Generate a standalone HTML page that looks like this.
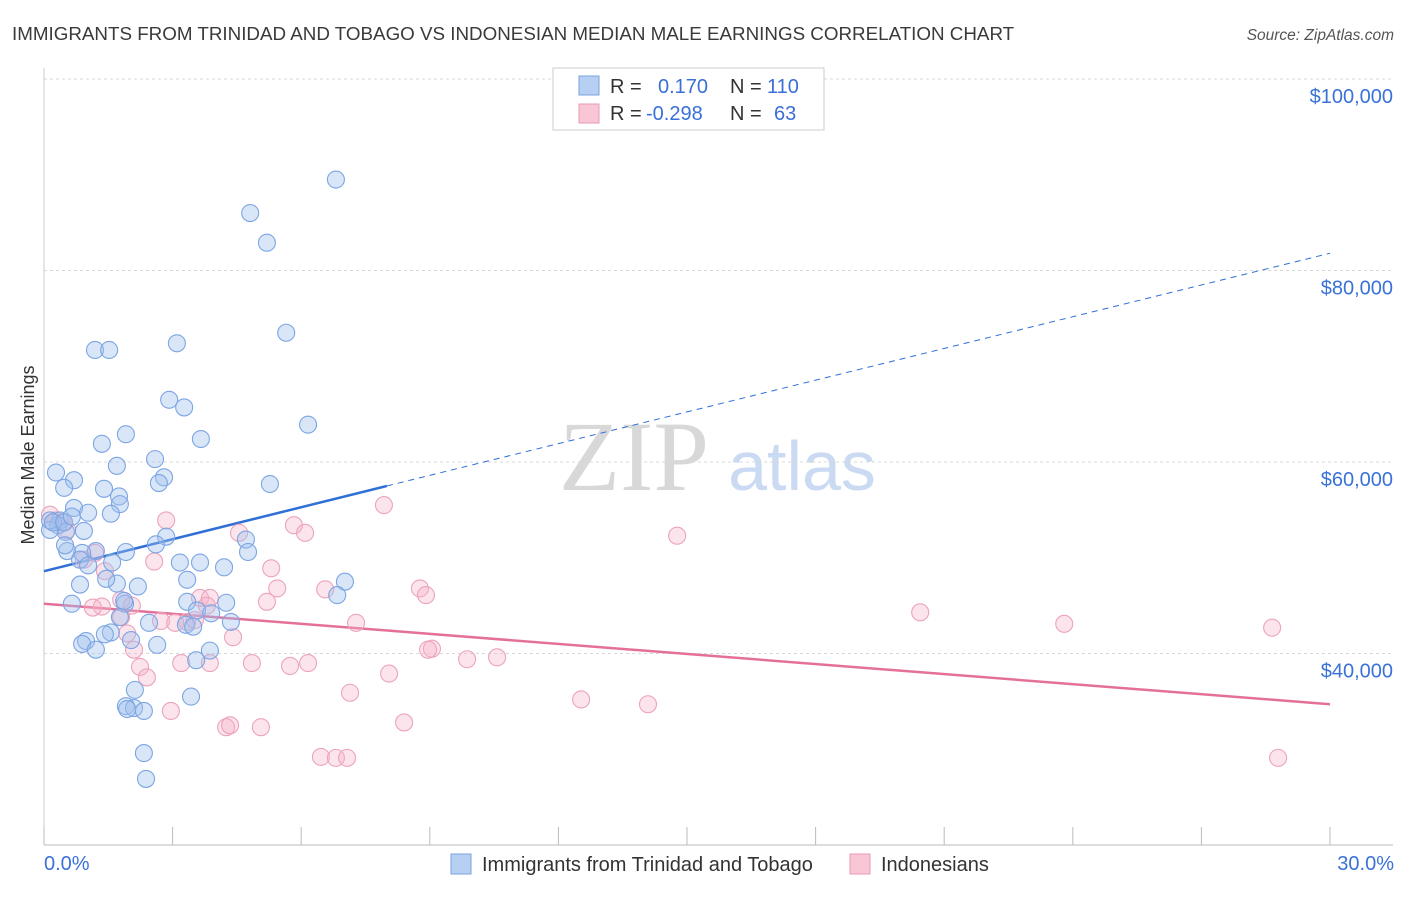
<!DOCTYPE html>
<html><head><meta charset="utf-8"><style>
body{margin:0;background:#fff;font-family:"Liberation Sans",sans-serif;}
</style></head><body>
<svg id="chart" width="1406" height="892" xmlns="http://www.w3.org/2000/svg" font-family="Liberation Sans, sans-serif">
<text x="12" y="40" font-size="18.8" fill="#3a3a3a">IMMIGRANTS FROM TRINIDAD AND TOBAGO VS INDONESIAN MEDIAN MALE EARNINGS CORRELATION CHART</text>
<text x="1394" y="40" font-size="15.5" fill="#555" text-anchor="end" font-style="italic">Source: ZipAtlas.com</text>
<g>
<text x="634" y="490" font-size="100" fill="#d8d8d8" style="font-family:'Liberation Serif',serif" text-anchor="middle">ZIP</text>
<text x="802" y="490" font-size="70" fill="#c9daf2" text-anchor="middle">atlas</text>
</g>
<g id="grid"></g>
<g id="axes"></g>
<g id="trends"></g>
<g id="pts"></g>
<text transform="translate(34,455) rotate(-90)" font-size="18" fill="#333" text-anchor="middle">Median Male Earnings</text>
<g>
<rect x="553" y="68" width="271" height="62" fill="#fff" stroke="#ccc"/>
<rect x="579" y="76" width="20" height="19" fill="#b7cff2" stroke="#7aa3e0"/>
<rect x="579" y="104" width="20" height="19" fill="#f9c6d6" stroke="#e99ab5"/>
<text x="610" y="93" font-size="20" fill="#333">R =</text>
<text x="658" y="93" font-size="20" fill="#3a6fd8">0.170</text>
<text x="730" y="93" font-size="20" fill="#333">N =</text>
<text x="767" y="93" font-size="20" fill="#3a6fd8">110</text>
<text x="610" y="120" font-size="20" fill="#333">R =</text>
<text x="646" y="120" font-size="20" fill="#3a6fd8">-0.298</text>
<text x="730" y="120" font-size="20" fill="#333">N =</text>
<text x="774" y="120" font-size="20" fill="#3a6fd8">63</text>
</g>
<g>
<rect x="451" y="854" width="20" height="20" fill="#b7cff2" stroke="#7aa3e0"/>
<text x="482" y="871" font-size="20" fill="#333">Immigrants from Trinidad and Tobago</text>
<rect x="850" y="854" width="20" height="20" fill="#f9c6d6" stroke="#e99ab5"/>
<text x="881" y="871" font-size="20" fill="#333">Indonesians</text>
</g>
</svg>
<script>
const yTicks=[40000,60000,80000,100000];
const yTickLabels=["$40,000","$60,000","$80,000","$100,000"];
const xEndLabels=["0.0%","30.0%"];
const blueX=[6.81,4.81,5.20,5.65,3.10,1.19,1.52,2.92,3.27,6.16,3.66,1.91,1.35,2.59,0.28,1.70,0.70,2.80,2.68,5.27,0.47,1.40,1.75,1.77,0.70,1.56,1.03,0.37,0.33,0.93,0.14,0.51,2.85,4.71,2.61,1.21,1.91,4.76,0.54,0.89,0.49,0.84,1.59,1.03,3.17,3.64,4.20,2.19,1.70,0.84,1.45,3.34,7.02,6.84,0.65,1.89,1.87,3.34,3.57,4.25,3.90,1.77,2.45,3.31,3.48,4.36,1.56,1.42,0.98,0.89,1.21,2.64,2.03,3.87,3.55,2.12,3.43,1.91,2.10,2.33,1.94,2.33,2.38,0.14,0.21,0.47,0.65];
const blueY=[89.5,86.0,82.9,73.5,72.4,71.7,71.7,66.5,65.7,63.9,62.4,62.9,61.9,60.3,58.9,59.6,58.1,58.4,57.8,57.7,57.3,57.2,56.4,55.6,55.2,54.6,54.7,53.9,53.4,52.8,52.9,52.7,52.2,51.9,51.4,50.7,50.6,50.6,50.7,50.5,51.3,49.8,49.5,49.2,49.5,49.5,49.0,47.0,47.3,47.2,47.8,47.7,47.5,46.1,45.2,45.2,45.5,45.4,44.5,45.3,44.2,43.8,43.2,43.0,42.8,43.3,42.2,42.0,41.3,41.0,40.4,40.9,41.4,40.3,39.3,36.2,35.5,34.5,34.3,34.0,34.2,29.6,26.9,53.9,53.7,53.7,54.3];
const pinkX=[0.14,0.28,0.44,0.54,1.19,0.93,1.35,1.14,1.80,2.05,1.80,2.85,2.57,2.73,1.94,2.10,2.24,2.40,2.96,3.20,3.34,3.64,3.87,4.41,3.87,4.25,4.34,5.06,4.85,4.55,5.30,5.44,5.20,5.83,6.09,5.74,6.16,6.56,7.28,7.14,6.46,6.81,7.07,7.93,8.05,8.40,8.77,8.91,9.05,8.96,9.87,10.57,12.53,14.09,14.77,20.44,23.80,28.65,28.79,3.06,3.80,3.52,1.42];
const pinkY=[54.5,53.9,53.7,52.9,50.5,49.8,44.9,44.8,45.6,45.0,43.8,53.9,49.6,43.4,42.1,40.4,38.6,37.5,34.0,39.0,43.3,45.8,45.8,41.7,39.0,32.3,32.5,32.3,39.0,52.6,48.9,46.8,45.4,53.4,52.6,38.7,39.0,46.7,43.2,35.9,29.2,29.1,29.1,55.5,37.9,32.8,46.8,46.1,40.5,40.4,39.4,39.6,35.2,34.7,52.3,44.3,43.1,42.7,29.1,43.2,45.0,43.5,48.6];
const blueTrendX=[0,8,30];
const blueTrendY=[48.6,57.5,81.8];
const pinkTrendX=[0,30];
const pinkTrendY=[45.2,34.7];

const NS="http://www.w3.org/2000/svg";
const X0=44,X1=1330,YB=845;
function sx(p){return X0+(p/30)*(X1-X0);}
function sy(v){return 79+(100000-v)/20000*191.5;}
function syk(k){return sy(k*1000);}
function mk(t,a,parent){const e=document.createElementNS(NS,t);for(const k in a)e.setAttribute(k,a[k]);document.getElementById(parent).appendChild(e);return e;}

yTicks.forEach((v,i)=>{
  const l=mk('line',{x1:X0,x2:1393,y1:sy(v),y2:sy(v),stroke:'#d8d8d8','stroke-dasharray':'3,3'},'grid');
  
  
  const t=mk('text',{x:1393,y:sy(v)+24,'font-size':20,fill:'#3a72d8','text-anchor':'end'},'grid');
  t.textContent=yTickLabels[i];
  
  
});
const ax=mk('line',{x1:X0,x2:1393,y1:YB,y2:YB,stroke:'#bbb'},'axes');


const ay=mk('line',{x1:X0,x2:X0,y1:68,y2:YB,stroke:'#ccc'},'axes');


for(let i=0;i<=10;i++){
  const tk=mk('line',{x1:sx(i*3),x2:sx(i*3),y1:827,y2:YB,stroke:'#bbb'},'axes');
  
  
}
[[0,'start',44],[30,'end',1394]].forEach((d,i)=>{
  const t=mk('text',{x:d[2],y:870,'font-size':20,fill:'#3a72d8','text-anchor':d[1]},'axes');
  t.textContent=xEndLabels[i];
  
  
});

const b1=mk('line',{x1:sx(blueTrendX[0]),y1:syk(blueTrendY[0]),x2:sx(blueTrendX[1]),y2:syk(blueTrendY[1]),stroke:'#2f6fd6','stroke-width':2.5},'trends');


const b2=mk('line',{x1:sx(blueTrendX[1]),y1:syk(blueTrendY[1]),x2:sx(blueTrendX[2]),y2:syk(blueTrendY[2]),stroke:'#2f6fd6','stroke-width':1,'stroke-dasharray':'6,5'},'trends');


const p1=mk('line',{x1:sx(pinkTrendX[0]),y1:syk(pinkTrendY[0]),x2:sx(pinkTrendX[1]),y2:syk(pinkTrendY[1]),stroke:'#e4709a','stroke-width':2.5},'trends');



pinkX.forEach((x,i)=>{
  const c=mk('circle',{cx:sx(x),cy:syk(pinkY[i]),r:8.5,fill:'rgba(246,178,200,0.35)',stroke:'#eca3bc','stroke-width':1.1},'pts');
  
  
});
blueX.forEach((x,i)=>{
  const c=mk('circle',{cx:sx(x),cy:syk(blueY[i]),r:8.5,fill:'rgba(160,192,238,0.4)',stroke:'#7ca5e3','stroke-width':1.1},'pts');
  
  
});
</script>
</body></html>
